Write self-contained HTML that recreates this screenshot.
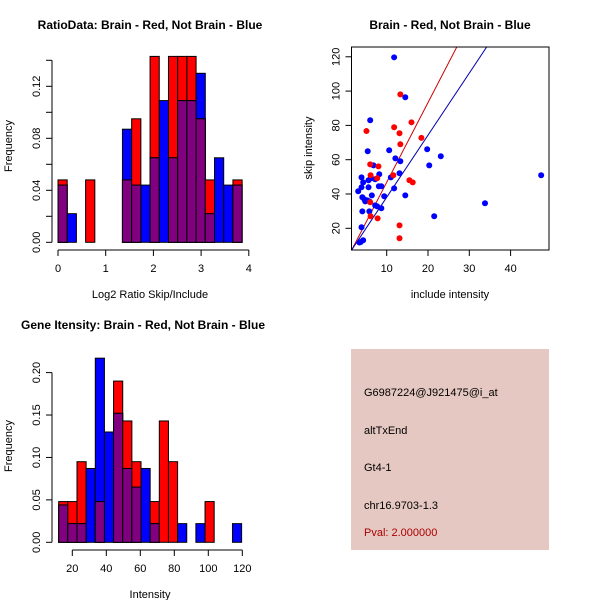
<!DOCTYPE html>
<html><head><meta charset="utf-8"><style>
body{margin:0;background:#fff;}
svg{display:block;font-family:"Liberation Sans",sans-serif;}
</style></head><body>
<svg id="c" width="600" height="600" viewBox="0 0 600 600">
<rect x="0" y="0" width="600" height="600" fill="#fff"/>
<g id="h1"></g>
<g id="sc"></g>
<g id="h2"></g>
<g>
<rect x="351" y="349" width="198" height="201" fill="#e6c8c2"/>
<text x="364" y="396" font-size="11" fill="#000">G6987224@J921475@i_at</text>
<text x="364" y="434" font-size="11" fill="#000">altTxEnd</text>
<text x="364" y="471" font-size="11" fill="#000">Gt4-1</text>
<text x="364" y="509" font-size="11" fill="#000">chr16.9703-1.3</text>
<text x="364" y="536" font-size="11" fill="#aa0000">Pval: 2.000000</text>
</g>
</svg>
<script>
// ---- Ratio histogram data ----
const ratioBinStart = 0;
const ratioBinWidth = 0.193;
const ratioRed  = [0.048,0,0,0.048,0,0,0,0.048,0.095,0,0.143,0,0.143,0.143,0.143,0.095,0.048,0,0,0.048];
const ratioBlue = [0.044,0.022,0,0,0,0,0,0.087,0.044,0.044,0.065,0.109,0.065,0.109,0.109,0.130,0.022,0.065,0.044,0.044];
const ratioXTicks = [0,1,2,3,4];
const ratioYTicks = ["0.00","0.02","0.04","0.06","0.08","0.10","0.12","0.14"];
const ratioYLabels = ["0.00","","0.04","","0.08","","0.12",""];
// ---- Intensity histogram data ----
const intBinStart = 12;
const intBinWidth = 5.38;
const intRed  = [0.048,0.048,0.095,0,0.048,0,0.190,0.143,0.095,0,0.048,0.143,0.095,0,0,0,0.048,0,0,0];
const intBlue = [0.044,0.022,0.022,0.087,0.217,0.130,0.152,0.087,0.065,0.087,0.022,0,0,0.022,0,0.022,0,0,0,0.022];
const intXTicks = [20,40,60,80,100,120];
const intYTicks = ["0.00","0.05","0.10","0.15","0.20"];
const intYLabels = ["0.00","0.05","0.10","0.15","0.20"];
// ---- Scatter data ----
const blueX = [11.8,14.5,6.0,5.4,10.6,12.1,13.3,19.8,23.1,20.3,6.8,8.2,13.1,11.0,3.9,5.6,6.2,7.2,4.3,8.1,8.7,3.9,5.6,11.8,3.1,6.4,4.1,9.4,14.5,4.6,4.8,5.3,5.8,7.2,7.7,8.7,4.1,5.8,3.9,4.3,3.7,3.4,33.8,21.5,47.4];
const blueY = [119.7,96.4,83.0,64.9,65.5,60.8,59.1,66.1,62.0,56.7,56.7,51.5,52.1,49.7,49.7,48.0,49.2,48.6,46.8,44.5,44.5,43.9,43.9,43.3,41.6,39.2,38.1,38.7,39.2,36.9,35.7,36.3,35.7,33.4,32.8,31.7,29.9,29.9,20.6,13.0,12.0,11.7,34.6,27.0,50.9];
const redX = [13.3,5.1,16.0,11.8,13.1,18.4,13.3,6.0,8.0,6.1,11.6,15.5,16.3,7.7,6.0,6.1,7.8,13.1,13.1];
const redY = [98.1,76.7,81.8,78.9,75.4,72.7,69.0,57.3,56.1,50.9,50.9,48.0,46.8,49.2,35.2,27.0,25.8,21.7,14.2];
const redSlope = 4.65, redIntercept = 0.3;
const blueSlope = 3.62, blueIntercept = 1.9;
const scXTicks = [10,20,30,40];
const scYTicks = [20,40,60,80,100,120];

const NS="http://www.w3.org/2000/svg";
function mk(parent,tag,attrs){const e=document.createElementNS(NS,tag);for(const k in attrs)e.setAttribute(k,attrs[k]);parent.appendChild(e);return e;}

function histogram(g,cfg){
  const sx=v=>cfg.x0+(v-cfg.xmin)*cfg.xs, sy=v=>cfg.y0-v*cfg.ys;
  for(let i=0;i<cfg.red.length;i++){
    const a=cfg.start+i*cfg.w, b=a+cfg.w;
    const r=cfg.red[i], bl=cfg.blue[i], m=Math.min(r,bl);
    const layers=[];
    if(r>0)layers.push([r,'#ff0000','red']);
    if(bl>0)layers.push([bl,'#0000ff','blue']);
    layers.sort((p,q)=>q[0]-p[0]);
    if(r>0&&bl>0)layers.push([m,'#800080','overlap']);
    for(const L of layers){
      const e=mk(g,'rect',{x:sx(a),y:sy(L[0]),width:sx(b)-sx(a),height:sy(0)-sy(L[0]),fill:L[1],stroke:'#000','stroke-width':1});
      
      
    }
  }
  const yv=cfg.yticks.map(Number);
  let e=mk(g,'line',{x1:cfg.yAxisX,x2:cfg.yAxisX,y1:sy(yv[0]),y2:sy(yv[yv.length-1]),stroke:'#000'});
  
  cfg.yticks.forEach((t,i)=>{
    const y=sy(Number(t));
    mk(g,'line',{x1:cfg.yAxisX-6,x2:cfg.yAxisX,y1:y,y2:y,stroke:'#000'});
    if(cfg.ylabels[i]){
      e=mk(g,'text',{x:0,y:0,transform:`translate(${cfg.yAxisX-12},${y}) rotate(-90)`,'text-anchor':'middle','font-size':11});
      e.textContent=cfg.ylabels[i];
    }
  });
  e=mk(g,'line',{x1:sx(cfg.xticks[0]),x2:sx(cfg.xticks[cfg.xticks.length-1]),y1:cfg.xAxisY,y2:cfg.xAxisY,stroke:'#000'});
  
  cfg.xticks.forEach(t=>{
    const x=sx(t);
    mk(g,'line',{x1:x,x2:x,y1:cfg.xAxisY,y2:cfg.xAxisY+6,stroke:'#000'});
    e=mk(g,'text',{x:x,y:cfg.xAxisY+22,'text-anchor':'middle','font-size':11});
    e.textContent=t;
  });
  e=mk(g,'text',{x:cfg.titleX,y:cfg.titleY,'text-anchor':'middle','font-size':12,'font-weight':'bold'});
  e.textContent=cfg.title;
  e=mk(g,'text',{x:cfg.xlabX,y:cfg.xAxisY+48,'text-anchor':'middle','font-size':11});
  e.textContent=cfg.xlab;
  e=mk(g,'text',{x:0,y:0,transform:`translate(12,${cfg.ylabY}) rotate(-90)`,'text-anchor':'middle','font-size':11});
  e.textContent='Frequency';
}

histogram(document.getElementById('h1'),{red:ratioRed,blue:ratioBlue,start:ratioBinStart,w:ratioBinWidth,
  x0:58,xmin:0,xs:47.7,y0:242.3,ys:1300,yAxisX:52,xAxisY:250,xticks:ratioXTicks,yticks:ratioYTicks,ylabels:ratioYLabels,
  title:'RatioData: Brain - Red, Not Brain - Blue',titleX:150,titleY:29,xlab:'Log2 Ratio Skip/Include',xlabX:150,ylabY:146});
histogram(document.getElementById('h2'),{red:intRed,blue:intBlue,start:intBinStart,w:intBinWidth,
  x0:72.3,xmin:20,xs:1.7,y0:542.3,ys:848.5,yAxisX:52,xAxisY:550,xticks:intXTicks,yticks:intYTicks,ylabels:intYLabels,
  title:'Gene Itensity: Brain - Red, Not Brain - Blue',titleX:143,titleY:329,xlab:'Intensity',xlabX:150,ylabY:446});

(function(){
  const g=document.getElementById('sc');
  const L=351.5,R=549,T=47,B=250;
  const sx=v=>345.4+v*4.13, sy=v=>262.6-v*1.715;
  const cp=mk(g,'clipPath',{id:'scclip'});mk(cp,'rect',{x:L,y:T,width:R-L,height:B-T});
  const xmin=(L-345.4)/4.13, xmax=(R-345.4)/4.13;
  let e=mk(g,'line',{x1:sx(xmin),y1:sy(redIntercept+redSlope*xmin),x2:sx(xmax),y2:sy(redIntercept+redSlope*xmax),stroke:'#cc0000','clip-path':'url(#scclip)'});
  
  e=mk(g,'line',{x1:sx(xmin),y1:sy(blueIntercept+blueSlope*xmin),x2:sx(xmax),y2:sy(blueIntercept+blueSlope*xmax),stroke:'#0000b0','clip-path':'url(#scclip)'});
  
  for(let i=0;i<blueX.length;i++){
    e=mk(g,'circle',{cx:sx(blueX[i]),cy:sy(blueY[i]),r:3,fill:'#0000ff'});
    
  }
  for(let i=0;i<redX.length;i++){
    e=mk(g,'circle',{cx:sx(redX[i]),cy:sy(redY[i]),r:3,fill:'#ff0000'});
    
  }
  e=mk(g,'rect',{x:L,y:T,width:R-L,height:B-T,fill:'none',stroke:'#000'});
  
  scXTicks.forEach(t=>{
    const x=sx(t);
    mk(g,'line',{x1:x,x2:x,y1:B,y2:B+6,stroke:'#000'});
    e=mk(g,'text',{x:x,y:B+22,'text-anchor':'middle','font-size':11});
    e.textContent=t;
  });
  scYTicks.forEach(t=>{
    const y=sy(t);
    mk(g,'line',{x1:L-6,x2:L,y1:y,y2:y,stroke:'#000'});
    e=mk(g,'text',{x:0,y:0,transform:`translate(${L-12},${y}) rotate(-90)`,'text-anchor':'middle','font-size':11});
    e.textContent=t;
  });
  e=mk(g,'text',{x:450,y:29,'text-anchor':'middle','font-size':12,'font-weight':'bold'});
  e.textContent='Brain - Red, Not Brain - Blue';
  e=mk(g,'text',{x:450,y:298,'text-anchor':'middle','font-size':11});
  e.textContent='include intensity';
  e=mk(g,'text',{x:0,y:0,transform:'translate(312,148) rotate(-90)','text-anchor':'middle','font-size':11});
  e.textContent='skip intensity';
})();
</script>
</body></html>
